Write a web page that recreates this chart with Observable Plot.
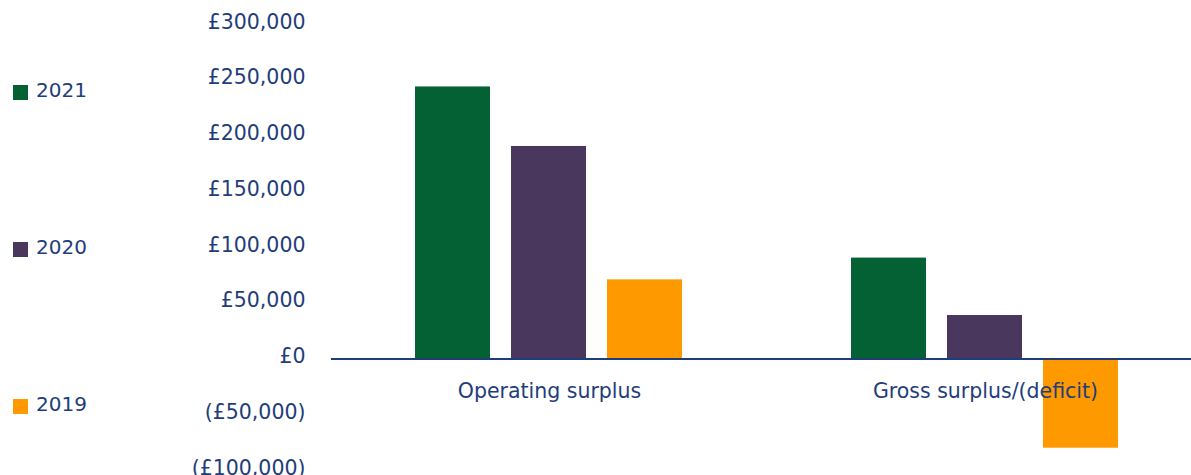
<!DOCTYPE html>
<html><head><meta charset="utf-8">
<script src="https://cdn.jsdelivr.net/npm/d3@7"></script>
<script src="https://cdn.jsdelivr.net/npm/@observablehq/plot@0.6"></script>
<style>
body{margin:0;overflow:hidden;background:#fff;font-family:"DejaVu Sans",sans-serif;}
#wrap{position:relative;width:1191px;height:475px;overflow:hidden}
#chart svg{max-width:none !important;display:block}
#legend{position:absolute;left:0;top:0}
.item{position:absolute;left:13px;display:flex;align-items:center;font-size:20px;color:#1f3d7a;white-space:nowrap}
.item span.lab{position:relative;top:-2px}
.sw{width:15px;height:15px;margin-right:8px}
</style></head><body>
<div id="wrap"><div id="chart"></div><div id="legend"></div></div>
<script>
const categories = ["Operating surplus","Gross surplus/(deficit)"];
const years = ["2021","2020","2019"];
const operating = [244000,190600,71000];
const gross = [90500,39000,-80000];
const yTicks = [-100000,-50000,0,50000,100000,150000,200000,250000,300000];
const colors = ["#036133","#4a375d","#ff9900"];
const textColor = "#1f3d7a";

const data = [];
years.forEach((y,i)=>{
  data.push({category:categories[0], year:y, value:operating[i]});
  data.push({category:categories[1], year:y, value:gross[i]});
});
const fmt = v => v<0 ? `(£${d3.format(",")(-v)})` : `£${d3.format(",")(v)}`;

const chart = Plot.plot({
  width:1203, height:475, marginLeft:331, marginRight:0, marginTop:24, marginBottom:5,
  style:{fontFamily:"DejaVu Sans", fontSize:"20.5px", color:textColor, background:"transparent", overflow:"visible"},
  fx:{domain:categories, padding:0, axis:null},
  x:{domain:years, paddingInner:0.2165, paddingOuter:0.856, axis:null},
  y:{domain:[-100000,300000], label:null},
  color:{domain:years, range:colors},
  marks:[
    Plot.axisY(yTicks,{tickFormat:fmt, tickSize:0, tickPadding:26, dy:-2.5, label:null, fill:textColor}),
    Plot.barY(data,{fx:"category", x:"year", y:"value", fill:"year"}),
    Plot.ruleY([0],{stroke:textColor, strokeWidth:2}),
    Plot.text(categories,{fx:d=>d, y:()=>0, text:d=>d, dy:32, fill:textColor, fontSize:20.5})
  ]
});
document.getElementById("chart").appendChild(chart);

const legendTops = [84, 241, 398];
const legend = document.getElementById("legend");
years.forEach((y,i)=>{
  const it = document.createElement("div");
  it.className = "item";
  it.style.top = (legendTops[i]-4) + "px";
  it.innerHTML = `<span class="sw" style="background:${colors[i]}"></span><span class="lab">${y}</span>`;
  legend.appendChild(it);
});
</script>
</body></html>
